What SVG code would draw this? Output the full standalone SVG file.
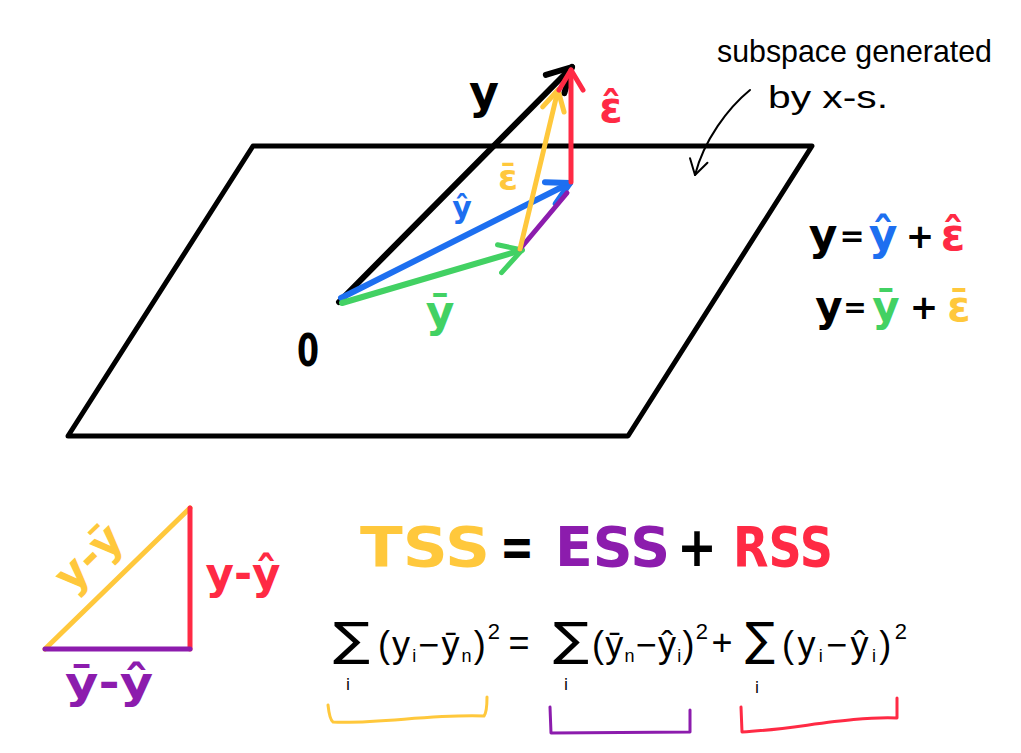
<svg xmlns="http://www.w3.org/2000/svg" width="1021" height="753" viewBox="0 0 1021 753">
<style>
.ln{fill:none;stroke-linecap:round;stroke-linejoin:round}
.k{stroke:#000}.r{stroke:#FF2A44}.b{stroke:#1D6FF0}.g{stroke:#42D163}.p{stroke:#8C1CAD}.yl{stroke:#FFC83C}
.fk{fill:#000}.fr{fill:#FF2A44}.fb{fill:#1D6FF0}.fg{fill:#42D163}.fp{fill:#8C1CAD}.fy{fill:#FFC83C}
.lb{font-family:"DejaVu Sans",sans-serif;font-weight:bold;text-anchor:middle}
.big{font-family:"DejaVu Sans",sans-serif;font-weight:bold;font-size:56px}
.hw{font-family:"Liberation Sans",sans-serif;font-size:32px;fill:#000}
.fm{font-family:"Liberation Sans",sans-serif;font-size:36px;fill:#000}
.sg{font-family:"DejaVu Sans",sans-serif;font-size:46px;fill:#000}
.sub{font-size:18px}
.sup{font-size:22px}
.si{font-family:"DejaVu Sans",sans-serif;font-size:16px;fill:#000;text-anchor:middle}
</style>
<defs>
<marker id="ak" markerUnits="userSpaceOnUse" orient="auto" overflow="visible" markerWidth="1" markerHeight="1"><path d="M-24,-13 L0,0 L-24,13" fill="none" stroke="#000" stroke-width="6" stroke-linecap="round" stroke-linejoin="round"/></marker>
<marker id="ar" markerUnits="userSpaceOnUse" orient="auto" overflow="visible" markerWidth="1" markerHeight="1"><path d="M-20,-12 L0,0 L-20,12" fill="none" stroke="#FF2A44" stroke-width="5" stroke-linecap="round" stroke-linejoin="round"/></marker>
<marker id="ab" markerUnits="userSpaceOnUse" orient="auto" overflow="visible" markerWidth="1" markerHeight="1"><path d="M-22,-12 L0,0 L-22,12" fill="none" stroke="#1D6FF0" stroke-width="6" stroke-linecap="round" stroke-linejoin="round"/></marker>
<marker id="ag" markerUnits="userSpaceOnUse" orient="auto" overflow="visible" markerWidth="1" markerHeight="1"><path d="M-22,-12 L0,0 L-26,16" fill="none" stroke="#42D163" stroke-width="5" stroke-linecap="round" stroke-linejoin="round"/></marker>
<marker id="ay" markerUnits="userSpaceOnUse" orient="auto" overflow="visible" markerWidth="1" markerHeight="1"><path d="M-20,-11 L0,0 L-20,11" fill="none" stroke="#FFC83C" stroke-width="5" stroke-linecap="round" stroke-linejoin="round"/></marker>
<marker id="at" markerUnits="userSpaceOnUse" orient="auto" overflow="visible" markerWidth="1" markerHeight="1"><path d="M-15,-9 L0,0 L-15,9" fill="none" stroke="#000" stroke-width="2" stroke-linecap="round" stroke-linejoin="round"/></marker>
</defs>
<rect width="1021" height="753" fill="#fff"/>

<g id="plane">
<path class="ln k" stroke-width="5" d="M253,146 L812,146 L628,436 L68,436 Z"/>
</g>

<g id="connectors">
<path class="ln k" stroke-width="6" d="M339,302 L572,67" marker-end="url(#ak)"/>
<path class="ln b" stroke-width="6" d="M341,298 L570,183" marker-end="url(#ab)"/>
<path class="ln g" stroke-width="6" d="M342,303 L522,250" marker-end="url(#ag)"/>
<path class="ln p" stroke-width="5" d="M520,249 L567,193"/>
<path class="ln yl" stroke-width="5" d="M520,249 L558,90" marker-end="url(#ay)"/>
<path class="ln r" stroke-width="5" d="M571,182 L571,70" marker-end="url(#ar)"/>
<path class="ln k" stroke-width="2" d="M750,90 C728,108 704,140 695,175" marker-end="url(#at)"/>
</g>

<g id="vector-labels">
<text id="lbl-y" class="lb fk" x="484" y="108" font-size="46">y</text>
<text id="lbl-ehat" class="lb fr" x="611" y="122" font-size="42">ε̂</text>
<text id="lbl-ebar" class="lb fy" x="508" y="190" font-size="36">ε̄</text>
<text id="lbl-yhat" class="lb fb" x="462" y="218" font-size="30">ŷ</text>
<text id="lbl-ybar" class="lb fg" x="440" y="327" font-size="44">ȳ</text>
<text id="lbl-0" class="lb fk" x="308" y="366" font-size="44" transform="translate(308,0) scale(0.72,1) translate(-308,0)">0</text>
</g>

<g id="subspace-label">
<text class="hw" x="717" y="62" textLength="275" lengthAdjust="spacingAndGlyphs">subspace generated</text>
<text class="hw" x="768" y="108" textLength="120" lengthAdjust="spacingAndGlyphs">by x-s.</text>
</g>

<g id="eq-hat">
<text class="lb" font-size="44" y="250"><tspan class="fk" x="823">y</tspan><tspan class="fk" x="852" font-size="30" dy="-4">=</tspan><tspan class="fb" x="883" dy="4">ŷ</tspan><tspan class="fk" x="920" font-size="34" dy="-2">+</tspan><tspan class="fr" x="953" dy="2">ε̂</tspan></text>
</g>
<g id="eq-bar">
<text class="lb" font-size="42" y="321"><tspan class="fk" x="829">y</tspan><tspan class="fk" x="855" font-size="28" dy="-4">=</tspan><tspan class="fg" x="886" dy="4">ȳ</tspan><tspan class="fk" x="924" font-size="34" dy="-2">+</tspan><tspan class="fy" x="959" dy="2">ε̄</tspan></text>
</g>

<g id="triangle">
<path class="ln yl" stroke-width="5" d="M45,649 L190,508"/>
<path class="ln r" stroke-width="5" d="M190,508 L190,649"/>
<path class="ln p" stroke-width="5" d="M45,649 L190,649"/>
<text class="lb fy" font-size="44" x="99" y="568" transform="rotate(-44,99,568)">y-ȳ</text>
<text class="lb fr" font-size="44" x="243" y="589" textLength="75" lengthAdjust="spacingAndGlyphs">y-ŷ</text>
<text class="lb fp" font-size="44" x="109" y="698" textLength="88" lengthAdjust="spacingAndGlyphs">ȳ-ŷ</text>
</g>

<g id="ss-equation">
<text class="big fy" x="360" y="566" textLength="130" lengthAdjust="spacingAndGlyphs">TSS</text>
<text class="big fk" x="500" y="566" textLength="34" lengthAdjust="spacingAndGlyphs">=</text>
<text class="big fp" x="555" y="566" textLength="115" lengthAdjust="spacingAndGlyphs">ESS</text>
<text class="big fk" x="677" y="566" textLength="40" lengthAdjust="spacingAndGlyphs">+</text>
<text class="big fr" x="733" y="566" textLength="100" lengthAdjust="spacingAndGlyphs">RSS</text>
</g>

<g id="sum-equation">
<text class="sg" x="333" y="655" textLength="37" lengthAdjust="spacingAndGlyphs">∑</text>
<text class="fm" x="378" y="657" textLength="122" lengthAdjust="spacing">(y<tspan class="sub" dy="5">i</tspan><tspan dy="-5">−ȳ</tspan><tspan class="sub" dy="5">n</tspan><tspan dy="-5">)</tspan><tspan class="sup" dy="-18">2</tspan></text>
<text class="fm" x="519" y="655" font-size="42" text-anchor="middle">=</text>
<text class="sg" x="553" y="655" textLength="36" lengthAdjust="spacingAndGlyphs">∑</text>
<text class="fm" x="592" y="657" textLength="116" lengthAdjust="spacing">(ȳ<tspan class="sub" dy="5">n</tspan><tspan dy="-5">−ŷ</tspan><tspan class="sub" dy="5">i</tspan><tspan dy="-5">)</tspan><tspan class="sup" dy="-18">2</tspan></text>
<text class="fm" x="722" y="655" text-anchor="middle">+</text>
<text class="sg" x="745" y="655" font-size="40" textLength="30" lengthAdjust="spacingAndGlyphs">∑</text>
<text class="fm" x="782" y="657" textLength="125" lengthAdjust="spacing">(y<tspan class="sub" dy="5">i</tspan><tspan dy="-5">−ŷ</tspan><tspan class="sub" dy="5">i</tspan><tspan dy="-5">)</tspan><tspan class="sup" dy="-18">2</tspan></text>
<text class="si" x="348" y="690">i</text>
<text class="si" x="566" y="690">i</text>
<text class="si" x="757" y="693">i</text>
</g>

<g id="brackets">
<path class="ln yl" stroke-width="3" d="M328,705 C329,714 330,720 333,722 C380,724 430,714 484,716 C487,712 487,703 487,697"/>
<path class="ln p" stroke-width="3" d="M550,707 L551,733 L690,732 L690,710"/>
<path class="ln r" stroke-width="3" d="M741,707 L742,732 C790,730 850,716 897,718 L897,698"/>
</g>
</svg>
